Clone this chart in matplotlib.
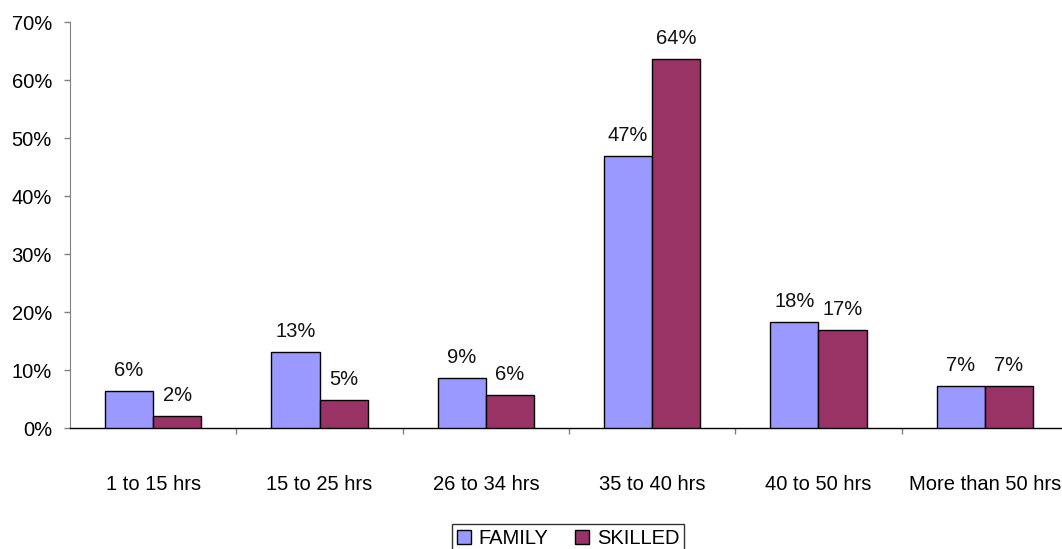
import numpy as np
import matplotlib.pyplot as plt
from matplotlib.ticker import FixedLocator, PercentFormatter

# ----------------------------------------------------------
# DATA
# ----------------------------------------------------------
CATEGORIES = ["1 to 15 hrs", "15 to 25 hrs", "26 to 34 hrs",
              "35 to 40 hrs", "40 to 50 hrs", "More than 50 hrs"]
FAMILY = [6.4, 13.1, 8.6, 46.9, 18.2, 7.2]
SKILLED = [2.1, 4.8, 5.7, 63.6, 16.9, 7.2]
FAMILY_LABELS = ["6%", "13%", "9%", "47%", "18%", "7%"]
SKILLED_LABELS = ["2%", "5%", "6%", "64%", "17%", "7%"]

# ----------------------------------------------------------
# STYLE
# ----------------------------------------------------------
plt.rcParams["font.family"] = ["Liberation Sans", "DejaVu Sans"]
FS = 14.5
C_FAMILY = "#9999FF"
C_SKILLED = "#993366"
AXIS_GRAY = "#808080"
BAR_W = 0.29

W, H = 1062, 549
fig = plt.figure(figsize=(W / 100, H / 100), dpi=100)
ax = fig.add_axes([70 / W, (H - 428) / H, 998 / W, 406 / H])

x = np.arange(len(CATEGORIES))
b1 = ax.bar(x - BAR_W / 2, FAMILY, BAR_W, color=C_FAMILY,
            edgecolor="black", linewidth=1.0, label="FAMILY", zorder=3)
b2 = ax.bar(x + BAR_W / 2, SKILLED, BAR_W, color=C_SKILLED,
            edgecolor="black", linewidth=1.0, label="SKILLED", zorder=3)

for bars, labels in ((b1, FAMILY_LABELS), (b2, SKILLED_LABELS)):
    for rect, lab in zip(bars, labels):
        ax.annotate(lab, (rect.get_x() + rect.get_width() / 2, rect.get_height()),
                    xytext=(0, 11), textcoords="offset points",
                    ha="center", va="baseline", fontsize=FS, color="#111111")

ax.set_xlim(-0.5, len(CATEGORIES) - 0.5)
ax.set_ylim(0, 70)
ax.yaxis.set_major_locator(FixedLocator(np.arange(0, 71, 10)))
ax.yaxis.set_major_formatter(PercentFormatter(decimals=0))

ax.set_xticks(x)
ax.set_xticklabels(CATEGORIES)
ax.xaxis.set_minor_locator(FixedLocator(np.arange(0.5, len(CATEGORIES) - 0.5, 1)))
ax.tick_params(axis="x", which="major", length=0, pad=34, labelsize=FS)
ax.tick_params(axis="x", which="minor", length=4, width=1, color=AXIS_GRAY)
ax.tick_params(axis="y", length=4, width=1, color=AXIS_GRAY, pad=9, labelsize=FS)

for s in ("top", "right"):
    ax.spines[s].set_visible(False)
ax.spines["left"].set_color(AXIS_GRAY)
ax.spines["bottom"].set_color("black")
ax.spines["bottom"].set_linewidth(1.0)

leg = fig.legend(loc="upper center", bbox_to_anchor=(568 / W, 1 - 524 / H),
                 ncol=2, fontsize=FS, frameon=True, fancybox=False,
                 handlelength=0.7, handleheight=0.7, handletextpad=0.4,
                 columnspacing=1.3, borderpad=0.25, borderaxespad=0)
leg.get_frame().set_edgecolor("black")
leg.get_frame().set_linewidth(1.0)

fig.savefig("out.png", dpi=100)
